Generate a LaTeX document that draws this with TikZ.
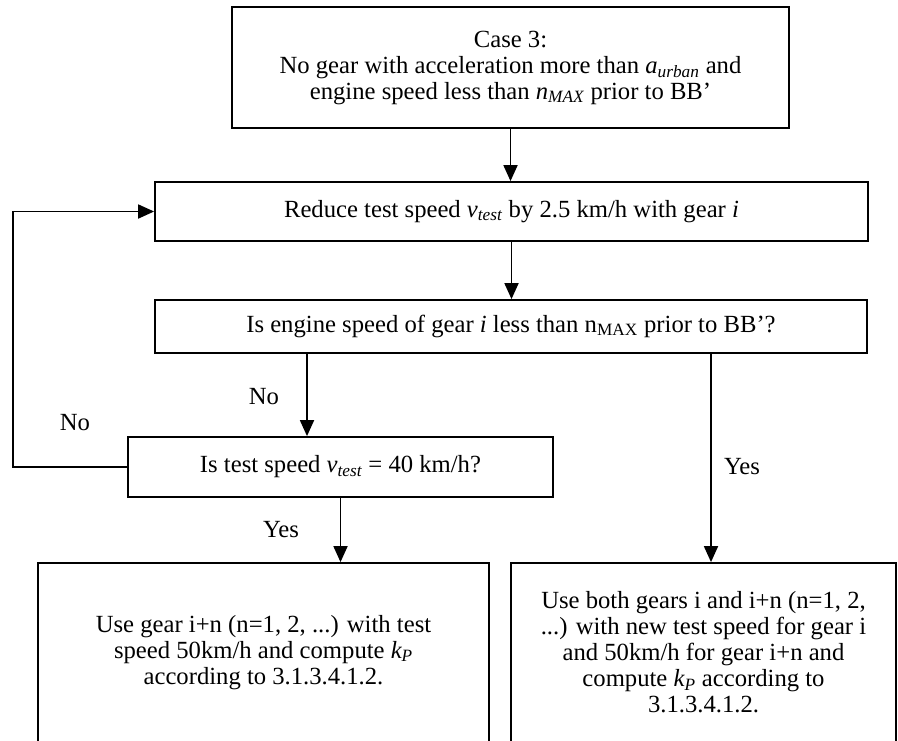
\documentclass[tikz,border=0pt]{standalone}
\usepackage{fontspec}
\setmainfont{Liberation Serif}
\usetikzlibrary{arrows.meta}
\newcommand\sbs[1]{\textsubscript{#1}}
\begin{document}
\begin{tikzpicture}[x=0.75pt,y=-0.75pt,
  box/.style={draw, line width=1.35pt, rectangle, align=center, inner sep=0pt,
    font=\fontsize{18.5}{19.5}\selectfont},
  arr/.style={line width=1.35pt, -{Triangle[length=12pt,width=10.5pt]}},
  lbl/.style={font=\fontsize{18.5}{19.5}\selectfont, inner sep=0pt}]
\clip (0,0) rectangle (898,740);
\node[box, minimum width=417.75pt, minimum height=90.75pt] (top) at (510.5,67.5)
  {Case 3:\\ No gear with acceleration more than \textit{a\sbs{urban}} and\\ engine speed less than \textit{n\sbs{MAX}} prior to BB’};
\node[box, minimum width=534.75pt, minimum height=44.25pt] (reduce) at (511.5,211.5)
  {Reduce test speed \textit{v\sbs{test}} by 2.5 km/h with gear \textit{i}};
\node[box, minimum width=534pt, minimum height=39.75pt] (engine) at (511,326.5)
  {Is engine speed of gear \textit{i} less than n\sbs{MAX} prior to BB’?};
\node[box, minimum width=318.75pt, minimum height=45pt] (test) at (340.5,467)
  {Is test speed \textit{v\sbs{test}} = 40 km/h?};
\node[box, minimum width=338.25pt, minimum height=134.25pt] (bl) at (263.5,652.5)
  {Use gear i+n (n=1, 2, ...) with test\\ speed 50km/h and compute \textit{k\sbs{P}}\\ according to 3.1.3.4.1.2.};
\node[box, minimum width=288.75pt, minimum height=134.25pt] (br) at (703.5,652.5)
  {Use both gears i and i+n (n=1, 2,\\ ...) with new test speed for gear i\\ and 50km/h for gear i+n and\\ compute \textit{k\sbs{P}} according to\\ 3.1.3.4.1.2.};
\coordinate (fb) at (13,0);
\coordinate (nx) at (307,0);
\coordinate (yx) at (711,0);
\node[lbl] (no1) at (264,397) {No};
\node[lbl] (no2) at (75,423) {No};
\node[lbl] (yes1) at (281,530) {Yes};
\node[lbl] (yes2) at (742,467) {Yes};
\draw[arr] (top.south) -- (top.south |- reduce.north);
\draw[arr] (reduce.south) -- (reduce.south |- engine.north);
\draw[arr] (engine.south -| nx) -- (test.north -| nx);
\draw[arr] (test.west) -- (test.west -| fb) |- (reduce.west);
\draw[arr] (test.south) -- (test.south |- bl.north);
\draw[arr] (engine.south -| yx) -- (br.north -| yx);
\end{tikzpicture}
\end{document}
